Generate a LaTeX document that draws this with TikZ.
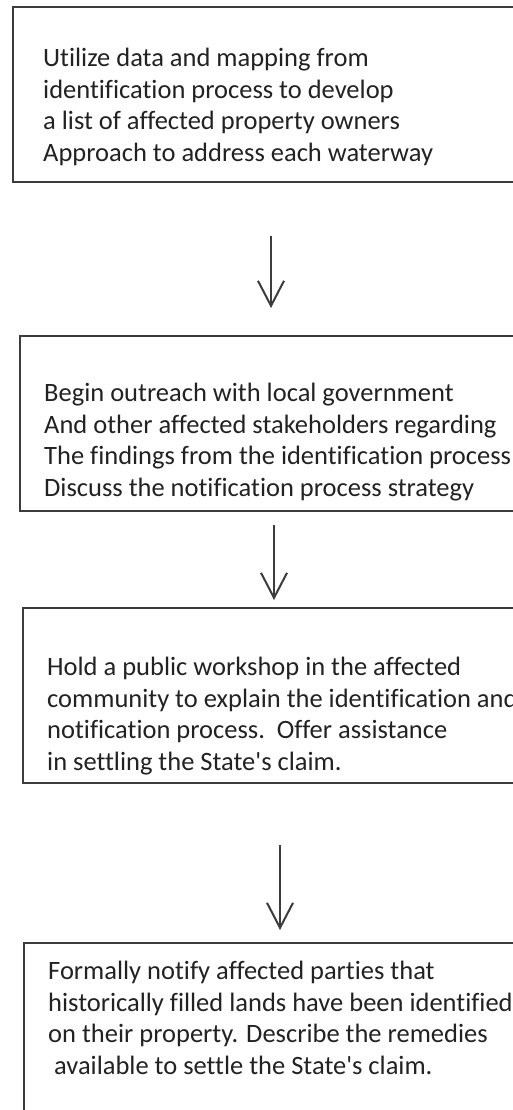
\documentclass[tikz,border=0pt]{standalone}
\usepackage{fontspec}
\setmainfont{Carlito}[Ligatures={NoCommon}]
\usetikzlibrary{positioning}
\usetikzlibrary{arrows.meta}
\definecolor{inkgray}{HTML}{3C3C3C}
\definecolor{txtgray}{HTML}{222222}
\tikzset{
stepbox/.style={
  draw=inkgray,line width=2.4pt,anchor=north west,
  minimum width=540pt,minimum height=175pt,inner sep=0pt},
steptext/.style={
  text=txtgray,align=left,inner sep=0pt,
  font=\fontsize{26.5}{31.5}\selectfont},
flow/.style={
  draw=inkgray,line width=2pt,
  -{Straight Barb[length=25pt,width=26pt,line width=2pt]}}
}

\begin{document}
\begin{tikzpicture}[x=1pt,y=-1pt]
\useasboundingbox (0,0) rectangle (512,1110);
\fill[white] (0,0) rectangle (512,1110);

\node[stepbox](Bident) at (12,6){};
\node[stepbox](Bout) at (19,335){};
\node[stepbox](Bshop) at (22,607){};
\node[stepbox,minimum height=200pt](Bnotif) at (23,942){};

\node[steptext,below right=42pt and 31pt of Bident.north west](Tident){Utilize data and mapping from\\
identification process to develop\\
a list of affected property owners\\
Approach to address each waterway};
\node[steptext,below right=48pt and 25pt of Bout.north west](Tout){Begin outreach with local government\\
And other affected stakeholders regarding\\
The findings from the identification process\\
Discuss the notification process strategy};
\node[steptext,below right=50pt and 25pt of Bshop.north west](Tshop){Hold a public workshop in the affected\\
community to explain the identification and\\
notification process.\ \ Offer assistance\\
in settling the State\textquotesingle s claim.};
\node[steptext,below right=19pt and 25pt of Bnotif.north west](Tnotif){Formally notify affected parties that\\
historically filled lands have been identified\\
on their property. Describe the remedies\\
\ available to settle the State\textquotesingle s claim.};

\coordinate (s1) at (271,236);
\coordinate (e1) at (271,308);
\coordinate (s2) at (274,525);
\coordinate (e2) at (274,600);
\coordinate (s3) at (280,845);
\coordinate (e3) at (280,930);

\draw[flow](s1) -- (e1);
\draw[flow](s2) -- (e2);
\draw[flow](s3) -- (e3);

\end{tikzpicture}
\end{document}
